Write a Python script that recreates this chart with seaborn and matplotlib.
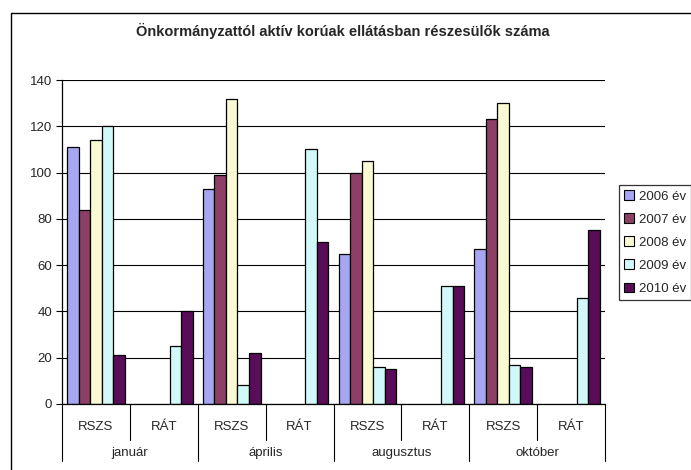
import numpy as np
import pandas as pd
import seaborn as sns
import matplotlib.pyplot as plt
from matplotlib.lines import Line2D

months = ["január", "április", "augusztus", "október"]
types = ["RSZS", "RÁT"]
years = ["2006 év", "2007 év", "2008 év", "2009 év", "2010 év"]
colors = ["#9999FF", "#993366", "#FFFFCC", "#CCFFFF", "#660066"]

v2006 = [111, np.nan, 93, np.nan, 65, np.nan, 67, np.nan]
v2007 = [84, np.nan, 99, np.nan, 100, np.nan, 123, np.nan]
v2008 = [114, np.nan, 132, np.nan, 105, np.nan, 130, np.nan]
v2009 = [120, 25, 8, 110, 16, 51, 17, 46]
v2010 = [21, 40, 22, 70, 15, 51, 16, 75]

cats = [m + " " + t for m in months for t in types]
rows = []
for year, vals in zip(years, [v2006, v2007, v2008, v2009, v2010]):
    for c, v in zip(cats, vals):
        rows.append({"cat": c, "year": year, "value": v})
df = pd.DataFrame(rows)

sns.set_style("white")
plt.rcParams["font.family"] = ["Liberation Sans", "DejaVu Sans"]

fig = plt.figure(figsize=(6.91, 4.70), dpi=100)
ax = fig.add_axes([62 / 691, 66 / 470, 543 / 691, 324 / 470])

sns.barplot(data=df, x="cat", y="value", hue="year", order=cats, hue_order=years,
            palette=colors, width=0.85, edgecolor="black", linewidth=0.9,
            errorbar=None, ax=ax)

ax.set_ylim(0, 140)
ax.set_xlim(-0.5, 7.5)
ax.set_yticks(range(0, 141, 20))
ax.yaxis.grid(True, color="black", linewidth=0.8)
ax.set_axisbelow(True)
ax.tick_params(axis="y", labelsize=9.5, length=4, width=0.8, color="black", pad=3, left=True)
ax.set_xticks(range(8), [t for m in months for t in types])
ax.tick_params(axis="x", labelsize=9.5, length=0, pad=12)
ax.set_xlabel("")
ax.set_ylabel("")
for s in ["top", "right"]:
    ax.spines[s].set_visible(False)
for s in ["left", "bottom"]:
    ax.spines[s].set_color("black")
    ax.spines[s].set_linewidth(0.9)

# category separators below the axis
trans = ax.get_xaxis_transform()
for k in range(9):
    x = k - 0.5
    low = -0.176 if k % 2 == 0 else -0.11
    ax.plot([x, x], [0, low], color="black", lw=0.8, transform=trans, clip_on=False)
for i, m in enumerate(months):
    ax.text(2 * i + 0.5, -0.15, m, transform=trans, ha="center", va="center", fontsize=9.5)

leg = ax.legend(loc="upper left", bbox_to_anchor=(619 / 691, 1 - 185 / 470),
                bbox_transform=fig.transFigure, fontsize=9.5, frameon=True, fancybox=False,
                edgecolor="black", handlelength=0.7, handleheight=0.7, handletextpad=0.4,
                labelspacing=0.82, borderpad=0.4, borderaxespad=0)
leg.get_frame().set_linewidth(0.9)
for h in leg.legend_handles:
    h.set_edgecolor("black")
    h.set_linewidth(0.8)

fig.text(343 / 691, 1 - 31 / 470,
         "Önkormányzattól aktív korúak ellátásban részesülők száma",
         ha="center", va="center", fontsize=10.5, fontweight="bold")

fig.add_artist(Line2D([11 / 691, 11 / 691, 1], [0, 1 - 12.7 / 470, 1 - 12.7 / 470],
                      transform=fig.transFigure, color="black", lw=1))

fig.savefig("out.png", dpi=100)
